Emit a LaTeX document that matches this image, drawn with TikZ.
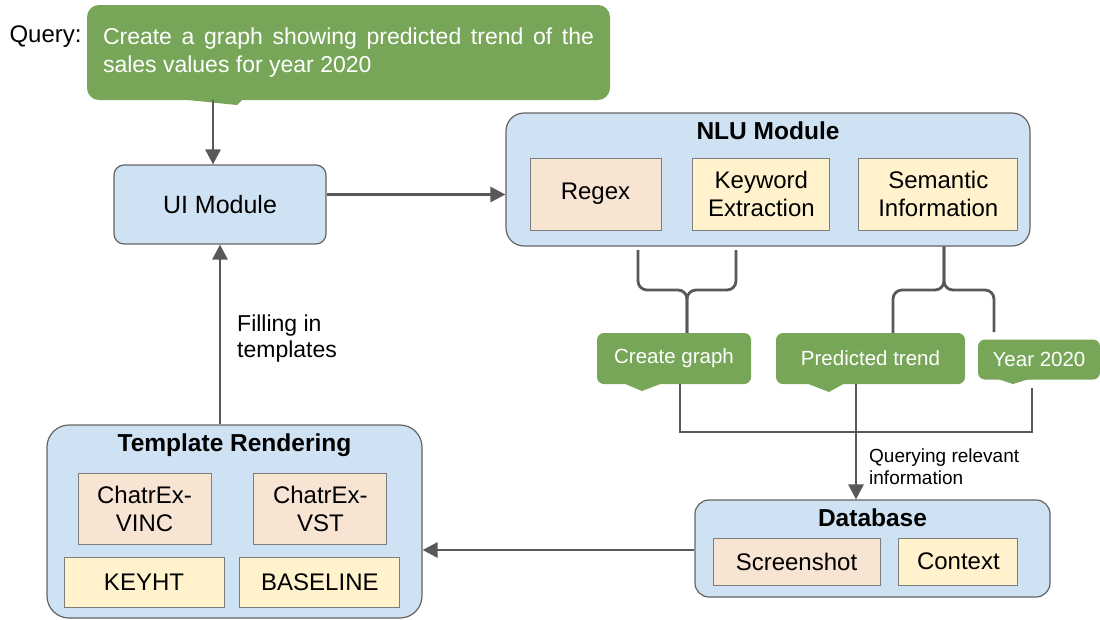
\documentclass[tikz,border=0pt]{standalone}
\usepackage{fontspec}
\setmainfont{Liberation Sans}
\usetikzlibrary{positioning,arrows.meta}

\begin{document}
\begin{tikzpicture}[x=1pt,y=-1pt,
  module/.style={draw=bordmodule, line width=1.2pt, fill=bleuclair, rounded corners=#1},
  module/.default=14pt,
  brique/.style={draw=bordbrique, line width=0.9pt, align=center, inner sep=0pt, font=\fontsize{24}{28}\selectfont},
  peche/.style={brique, fill=pecheclair},
  jaune/.style={brique, fill=jauneclair},
  titre/.style={font=\fontsize{24.5}{28}\selectfont\bfseries, inner sep=0pt},
  bulle/.style={fill=vertbulle, text=white, rounded corners=7pt, inner sep=0pt, font=\fontsize{20.5}{24}\selectfont},
  liaison/.style={draw=grisfleche, line width=2.8pt},
  fleche/.style={liaison, -{Triangle[length=15pt,width=15pt]}},
  note/.style={align=left, inner sep=0pt, anchor=west}]
  % Définition des couleurs
  \definecolor{bleuclair}{RGB}{207,226,243}
  \definecolor{pecheclair}{RGB}{247,228,210}
  \definecolor{jauneclair}{RGB}{255,242,204}
  \definecolor{vertbulle}{RGB}{119,166,88}
  \definecolor{bordmodule}{RGB}{100,100,100}
  \definecolor{bordbrique}{RGB}{125,125,125}
  \definecolor{grisfleche}{RGB}{89,89,89}

  \useasboundingbox (0,0) rectangle (1100,619);

  % --- Requête ---
  \node[bulle, rounded corners=12pt, text width=491pt, align=justify, inner xsep=16pt, minimum height=95pt,
        font=\fontsize{23}{28}\selectfont] (requete) at (348.5,52.5)
        {Create a graph showing predicted trend of the sales values for year 2020};
  \fill[vertbulle] (178,99) -- (237,105) -- (243,99) -- cycle;
  \node[font=\fontsize{24}{28}\selectfont, inner sep=0pt, left=5pt of requete.west, yshift=15.5pt] (etiquette) {Query:};

  % --- Module UI ---
  \node[module=10pt, minimum width=212pt, minimum height=79pt, font=\fontsize{25}{30}\selectfont] (ui) at (220,204.5) {UI Module};

  % --- Module NLU ---
  \node[module=18pt, minimum width=524pt, minimum height=133pt] (nlu) at (768,179.5) {};
  \node[titre, below=9pt of nlu.north] (nlutitre) {NLU Module};
  \node[peche, minimum width=131pt, minimum height=72pt] (regex) at (595.5,194) {Regex};
  \node[jaune, minimum width=137pt, minimum height=72pt, right=31pt of regex] (motscles) {Keyword\\Extraction};
  \node[jaune, minimum width=159pt, minimum height=72pt, right=28pt of motscles] (semantique) {Semantic\\Information};

  % --- Mots extraits ---
  \node[bulle, minimum width=154pt, minimum height=51pt] (creer) at (674,358.5) {Create graph};
  \fill[vertbulle] (623,383) -- (642,391) -- (663,383) -- cycle;
  \node[bulle, minimum width=189pt, minimum height=51pt] (predit) at (870.5,358.5) {Predicted trend};
  \fill[vertbulle] (806,383) -- (829,392) -- (845,383) -- cycle;
  \node[bulle, minimum width=122pt, minimum height=40pt] (annee) at (1039,359.5) {Year 2020};
  \fill[vertbulle] (998,379) -- (1013,384) -- (1029,379) -- cycle;

  % --- Accolades ---
  \coordinate (jambeA) at (638,250);
  \coordinate (jambeB) at (736,250);
  \coordinate (accG) at (687,290);
  \coordinate (accD) at (944,290);
  \coordinate (jambeY) at (994,332);
  \draw[liaison, rounded corners=9pt] (jambeA) |- (accG) -- (creer.north -| accG);
  \draw[liaison, rounded corners=9pt] (jambeB) |- (accG) -- (creer.north -| accG);
  \draw[liaison, rounded corners=9pt] (nlu.south -| accD) -- (accD) -| (predit.north -| 893,0);
  \draw[liaison, rounded corners=9pt] (nlu.south -| accD) -- (accD) -| (jambeY);

  % --- Base de données ---
  \node[module=14pt, minimum width=355pt, minimum height=97pt] (bdd) at (872.5,548.5) {};
  \node[titre, below=9pt of bdd.north] (bddtitre) {Database};
  \node[peche, minimum width=167pt, minimum height=47pt] (capture) at (796.5,561.5) {Screenshot};
  \node[jaune, minimum width=119pt, minimum height=47pt, right=18pt of capture] (contexte) {Context};

  % Requête vers la base
  \coordinate (basG) at (680,432);
  \coordinate (basD) at (1032,432);
  \coordinate (basM) at (856,432);
  \coordinate (finY) at (1032,388);
  \draw[liaison] (creer.south -| basG) -- (basG) -- (basD) -- (finY);
  \draw[fleche] (predit.south -| basM) -- (bdd.north -| basM);
  \node[note, font=\fontsize{19}{22}\selectfont] (requetage) at (869,467) {Querying relevant\\information};

  % --- Rendu des modèles ---
  \node[module=22pt, minimum width=375pt, minimum height=193pt] (modele) at (234.5,521.5) {};
  \node[titre, below=9pt of modele.north] (modeletitre) {Template Rendering};
  \node[peche, minimum width=133pt, minimum height=71pt] (vinc) at (144.5,508.5) {ChatrEx-\\VINC};
  \node[peche, minimum width=133pt, minimum height=71pt, right=42pt of vinc] (vst) {ChatrEx-\\VST};
  \node[jaune, minimum width=160pt, minimum height=50pt] (keyht) at (144,582) {KEYHT};
  \node[jaune, minimum width=160pt, minimum height=50pt, right=15pt of keyht] (baseline) {BASELINE};

  % --- Flèches entre modules ---
  \coordinate (sortieUI) at ([yshift=10pt]ui.east);
  \draw[fleche] (requete.south -| 213,0) -- (ui.north -| 213,0);
  \draw[fleche] (sortieUI) -- (sortieUI -| nlu.west);
  \draw[fleche] (bdd.west |- 0,550) -- (modele.east |- 0,550);
  \draw[fleche] (modele.north -| ui.south) -- (ui.south);
  \node[note, font=\fontsize{23}{26}\selectfont] (remplissage) at (237,339) {Filling in\\templates};

\end{tikzpicture}
\end{document}
